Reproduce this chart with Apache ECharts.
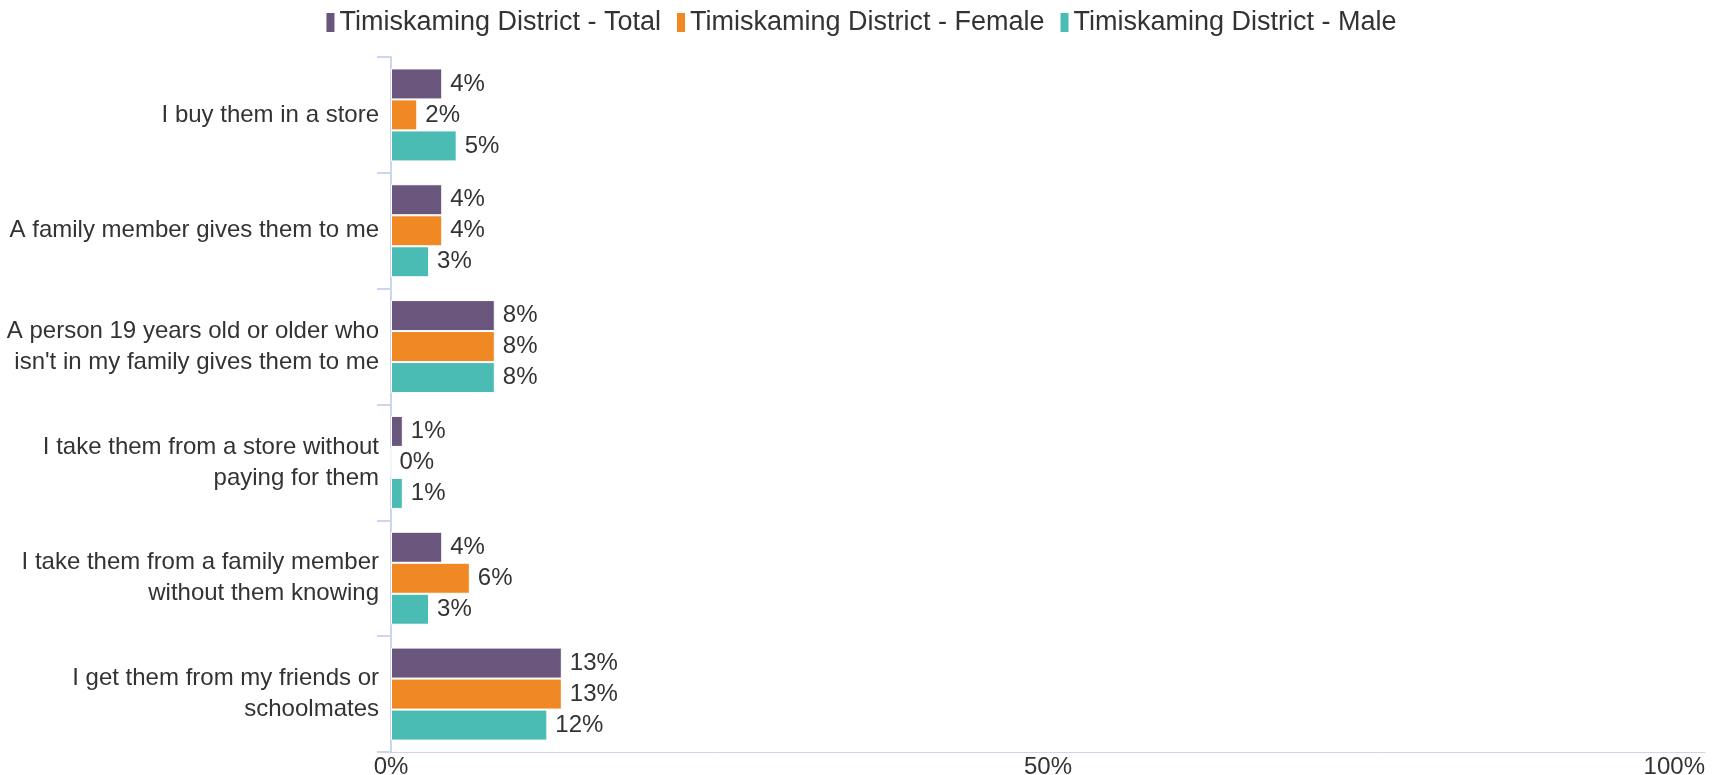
<!DOCTYPE html>
<html>
<head>
<meta charset="utf-8">
<script src="https://cdn.jsdelivr.net/npm/echarts@6/dist/echarts.min.js"></script>
<style>
  html, body { margin: 0; padding: 0; background: #fff; }
  #main_container { width: 1721px; height: 775px; }
</style>
</head>
<body>
<div id="main_container"></div>
<script>
// categories (top to bottom)
var categories = [
  "I buy them in a store",
  "A family member gives them to me",
  "A person 19 years old or older who\nisn't in my family gives them to me",
  "I take them from a store without\npaying for them",
  "I take them from a family member\nwithout them knowing",
  "I get them from my friends or\nschoolmates"
];
var seriesNames = [
  "Timiskaming District - Total",
  "Timiskaming District - Female",
  "Timiskaming District - Male"
];
// percent values
var totalValues = [3.9, 3.9, 7.9, 0.9, 3.9, 13.0];
var femaleValues = [2.0, 3.9, 7.9, 0, 6.0, 13.0];
var maleValues = [5.0, 2.9, 7.9, 0.9, 2.9, 11.9];
var xTicks = [0, 50, 100];

var colors = ["#6a567c", "#f08823", "#4bbcb4"];
var font = "Liberation Sans, Arial, sans-serif";

function makeSeries(name, data, color) {
  return {
    name: name,
    type: "bar",
    data: data,
    barWidth: 31,
    barGap: "0%",
    itemStyle: { color: color, borderColor: "#ffffff", borderWidth: 1 },
    label: {
      show: true,
      position: "right",
      distance: 8,
      fontSize: 24,
      fontFamily: font,
      color: "#333333",
      formatter: function (p) {
        return Math.round(p.value) + "%";
      }
    }
  };
}

var myChart = echarts.init(document.getElementById("main_container"));
myChart.setOption({
  animation: false,
  textStyle: { fontFamily: font },
  legend: {
    data: seriesNames,
    top: 4,
    left: "center",
    itemWidth: 10,
    itemHeight: 21,
    itemGap: 14,
    icon: "rect",
    textStyle: { fontSize: 27, color: "#333333", fontFamily: font, padding: [0, 0, 0, -1] }
  },
  grid: {
    left: 391,
    right: 16,
    top: 57,
    bottom: 23,
    containLabel: false,
    outerBoundsMode: "none"
  },
  xAxis: {
    type: "value",
    min: xTicks[0],
    max: xTicks[xTicks.length - 1],
    interval: xTicks[1] - xTicks[0],
    splitLine: { show: false },
    axisLine: { show: true, lineStyle: { color: "#ccd6eb", width: 1 } },
    axisTick: { show: false },
    axisLabel: {
      fontSize: 24,
      color: "#333333",
      fontFamily: font,
      margin: 3,
      alignMaxLabel: "right",
      formatter: "{value}%"
    }
  },
  yAxis: {
    type: "category",
    inverse: true,
    data: categories,
    axisLine: { show: true, lineStyle: { color: "#ccd6eb", width: 2 } },
    axisTick: { show: true, length: 14, lineStyle: { color: "#ccd6eb", width: 2 } },
    axisLabel: {
      fontSize: 24,
      lineHeight: 31,
      color: "#333333",
      fontFamily: font,
      margin: 12,
      align: "right"
    }
  },
  series: [
    makeSeries(seriesNames[0], totalValues, colors[0]),
    makeSeries(seriesNames[1], femaleValues, colors[1]),
    makeSeries(seriesNames[2], maleValues, colors[2])
  ]
});
</script>
</body>
</html>
